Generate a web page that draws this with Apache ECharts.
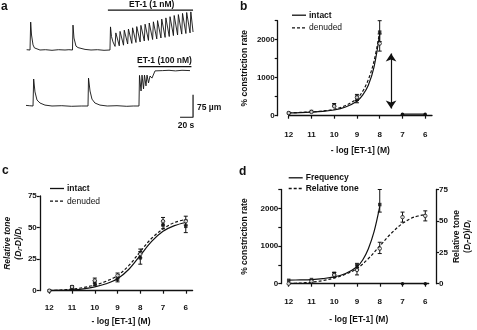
<!DOCTYPE html>
<html><head><meta charset="utf-8">
<script src="https://cdn.jsdelivr.net/npm/echarts@6/dist/echarts.min.js"></script>
<style>html,body{margin:0;padding:0;background:#fff}#c{width:477px;height:330px}</style>
</head><body><div id="c"></div>
<script>
const FONT = "'Liberation Sans', Arial, Helvetica, sans-serif";

// ---------- tick labels ----------
const xTicks = [12, 11, 10, 9, 8, 7, 6];
const rateTicks = [0, 500, 1000, 1500, 2000, 2500];
const rateLabels = [0, 1000, 2000];
const toneTicks = [0, 25, 50, 75];

// ---------- panel a : diameter traces [time s, µm] ----------
const traceTop = [
  [1,1],[4,0],[6.2,0],[7.2,93],[8.5,50],[10.8,17],[13,7],[15.4,3],[21.5,0],[30,1],[40,-1],[50,1],[60,0],[66,1],[71.5,0],
  [72.3,83],[73.8,40],[76.9,13],[80,8],[83,5],[90.8,2],[100,0],[110,1],[120,-1],[129.2,0],
  [130,77],[131.5,45],[133.8,27],[137,12],
  [138.2,57],[143.5,14],[144.7,62],[150,16],[151.2,66],[156.4,20],[157.6,70],[162.8,22],[164,74],[169.2,25],
  [170.4,78],[175.6,27],[176.8,82],[182,30],[183.2,86],[188.4,32],[189.6,90],[194.8,35],[196,94],[201.2,37],
  [202.4,98],[207.6,40],[208.8,103],[214,42],[215.2,107],[220.4,45],[221.6,111],[226.8,48],[228,115],[233.2,50],
  [234.4,118],[239.6,53],[240.8,122],[246,55],[247.2,125],[252.4,57],[253.6,127],[257,60]
];
const traceBottom = [
  [0,2],[5,1],[10.8,0],[11.8,90],[13.8,47],[16.9,20],[21.5,10],[29.2,3],[40,0],[55,1],[70,-1],[85,0],[95.4,0],
  [96.2,93],[98.5,50],[101.5,23],[106,10],[113.8,3],[125,0],[140,1],[155,-1],[165,0],[173.8,0],
  [174.6,102],[177,50],[178.5,103],[180.8,57],[182.3,103],[184.6,67],[186.2,103],[188.5,77],[190.8,100],
  [193.8,93],[198.5,117],[201.5,120],[210,118],[220,119],[230,117],[240,119],[252.3,118]
];
const et1LowBar = [[126,133],[257,133]];
const et1HighBar = [[173,131],[254.5,131]];
const scaleBar = [[237,-37.5],[257,-37.5],[257,37.5]];

// ---------- panel b : % constriction rate ----------
const bCurveX = [12, 11.5, 11, 10.5, 10, 9.5, 9, 8.75, 8.5, 8.25, 8];
const bIntactCurve = [75, 82, 95, 115, 150, 230, 380, 540, 800, 1280, 2150];
const bDenudedCurve = [75, 85, 100, 125, 170, 270, 450, 640, 950, 1430, 2200];
const bX = [12, 11, 10, 9, 8];
const bIntact = [70, 110, 280, 430, 2200];
const bDenuded = [70, 100, 250, 480, 1900];
const bIntactErr = [[10,240,320],[9,340,520],[8,1950,2500]];
const bDenudedErr = [[9,400,560],[8,1700,2150]];
const bPostX = [7, 6];
const bPost = [40, 40];
const bArrow = [[7.5,190],[7.5,1640]];

// ---------- panel c : relative tone ----------
const cCurveX = [12, 11.5, 11, 10.5, 10, 9.5, 9, 8.5, 8, 7.5, 7, 6.5, 6];
const cIntactCurve = [0.1, 0.3, 0.6, 1.5, 3, 5.5, 9.5, 17, 28, 39, 47, 51.5, 54];
const cDenudedCurve = [0.2, 0.5, 1.2, 2.5, 4.5, 7.5, 12, 20, 31, 41.5, 49, 54, 56.5];
const cX = [12, 11, 10, 9, 8, 7, 6];
const cIntact = [0, 2, 6, 9, 26, 52, 51];
const cDenuded = [0, 3, 8, 12, 29, 55, 55];
const cIntactErr = [[11,1,3],[10,4,8],[9,7,11],[8,21,31],[7,49,55],[6,46,56]];
const cDenudedErr = [[11,2,4],[10,6,10],[9,10,14],[8,26,33],[7,52,58],[6,52,59]];

// ---------- panel d : frequency vs relative tone ----------
const dFreqCurveX = [12, 11.5, 11, 10.5, 10, 9.5, 9, 8.75, 8.5, 8.25, 8];
const dFreqCurve = [95, 100, 110, 135, 180, 270, 450, 630, 930, 1380, 2050];
const dToneCurveX = [12, 11.5, 11, 10.5, 10, 9.5, 9, 8.5, 8, 7.5, 7, 6.5, 6];
const dToneCurve = [0.2, 0.5, 1.2, 2.5, 4.5, 7.5, 12, 20, 30, 40, 48, 53, 55];
const dFreqX = [12, 11, 10, 9, 8];
const dFreq = [90, 110, 270, 460, 2100];
const dFreqErr = [[10,230,300],[9,380,540],[8,1900,2500]];
const dToneX = [12, 11, 10, 9, 8, 7, 6];
const dTone = [0, 2, 7, 11, 28, 53, 54];
const dToneErr = [[11,1,3],[10,5,9],[9,7,15],[8,24,33],[7,49,57],[6,50,58]];
const dPostX = [7, 6];
const dPost = [0, 0];

// ---------- helpers ----------
const zip = (xs, ys) => xs.map((x, i) => [x, ys[i]]);
const BLACK = '#111';
const SOLID_ICON = 'path://M0,0h14v1.3h-14z';
const DASH_ICON = 'path://M0,0h3v1.3h-3z M5,0h3v1.3h-3z M10,0h3v1.3h-3z M14,0h0v1.3h0z';

function errRender(params, api) {
  const x = api.value(0), lo = api.value(1), hi = api.value(2);
  const p1 = api.coord([x, lo]), p2 = api.coord([x, hi]);
  const w = 2;
  const st = { stroke: BLACK, lineWidth: 1 };
  return { type: 'group', children: [
    { type: 'line', shape: { x1: p1[0], y1: p1[1], x2: p2[0], y2: p2[1] }, style: st },
    { type: 'line', shape: { x1: p1[0]-w, y1: p1[1], x2: p1[0]+w, y2: p1[1] }, style: st },
    { type: 'line', shape: { x1: p2[0]-w, y1: p2[1], x2: p2[0]+w, y2: p2[1] }, style: st }
  ]};
}

const axLine = { show: true, lineStyle: { color: BLACK, width: 1.3 } };
const axTick = (vals) => ({ show: true, length: 3, inside: false, lineStyle: { color: BLACK, width: 1.2 }, customValues: vals });
const axLabel = (vals, margin) => ({ color: BLACK, fontSize: 8, fontWeight: 'bold', fontFamily: FONT, margin: margin,
  customValues: vals, formatter: (v) => String(v) });
const nameStyle = { color: BLACK, fontSize: 8.5, fontWeight: 'bold', fontFamily: FONT };

function xLog(gridIndex, min, offset, gap) {
  return {
    type: 'value', gridIndex, inverse: true, min: min, max: 12, position: 'bottom', offset,
    axisLine: axLine, axisTick: axTick(xTicks), axisLabel: axLabel(xTicks, 5), splitLine: { show: false },
    name: '- log [ET-1] (M)', nameLocation: 'middle', nameGap: gap, nameTextStyle: nameStyle
  };
}

const toneRich = (italicTitle) => ({
  t: { fontSize: 8.5, fontWeight: 'bold', fontFamily: FONT, fontStyle: italicTitle ? 'italic' : 'normal', color: BLACK, lineHeight: 11 },
  it: { fontSize: 8.5, fontWeight: 'bold', fontFamily: FONT, fontStyle: 'italic', color: BLACK, lineHeight: 11 },
  n: { fontSize: 8.5, fontWeight: 'bold', fontFamily: FONT, color: BLACK, lineHeight: 11 },
  s: { fontSize: 6, fontWeight: 'bold', fontFamily: FONT, fontStyle: 'italic', color: BLACK, lineHeight: 11, verticalAlign: 'bottom', padding: [3, 0, 0, 0] }
});

const curve = (name, xi, yi, data, dashed) => ({
  type: 'line', name, xAxisIndex: xi, yAxisIndex: yi, data, symbol: 'none', smooth: 0.35,
  lineStyle: { color: BLACK, width: 1.2, type: dashed ? [3, 2] : 'solid' }, itemStyle: { color: BLACK }, z: 3
});
const pts = (name, xi, yi, data, sym) => ({
  type: 'scatter', name, xAxisIndex: xi, yAxisIndex: yi, data,
  symbol: sym === 'open' ? 'circle' : 'rect', symbolSize: 3.5,
  itemStyle: sym === 'open' ? { color: '#fff', borderColor: BLACK, borderWidth: 1 } : { color: BLACK }, z: 5
});
const errs = (name, xi, yi, data) => ({
  type: 'custom', name, xAxisIndex: xi, yAxisIndex: yi, data, renderItem: errRender, z: 4,
  encode: { x: 0, y: [1, 2] }
});
const trace = (name, xi, yi, data, w) => ({
  type: 'line', name, xAxisIndex: xi, yAxisIndex: yi, data, symbol: 'none',
  lineStyle: { color: BLACK, width: w || 1 }
});

const legendBase = (left, top, gap, items) => ({
  orient: 'vertical', left, top, padding: 0, itemWidth: 14, itemHeight: 1.3, itemGap: gap,
  textStyle: { color: BLACK, fontSize: 8.5, fontWeight: 'bold', fontFamily: FONT, padding: [0, 0, 0, -2] },
  selectedMode: false, data: items
});

const option = {
  animation: false,
  backgroundColor: '#fff',
  grid: [
    { left: 26, top: 5, width: 174.2, height: 51 },
    { left: 26, top: 64, width: 174.2, height: 55.8 },
    { left: 288.7, top: 20.7, width: 143.3, height: 95 },
    { left: 49.3, top: 196, width: 143.3, height: 94.7 },
    { left: 288.7, top: 189.5, width: 140, height: 94.2 }
  ],
  xAxis: [
    { type: 'value', gridIndex: 0, min: 0, max: 268, show: false },
    { type: 'value', gridIndex: 1, min: 0, max: 268, show: false },
    xLog(2, 5.7, 10, 20),
    xLog(3, 5.7, 8.5, 18),
    xLog(4, 5.85, 9.5, 22)
  ],
  yAxis: [
    { type: 'value', gridIndex: 0, min: -20, max: 150, show: false },
    { type: 'value', gridIndex: 1, min: -46, max: 140, show: false },
    { type: 'value', gridIndex: 2, min: 0, max: 2500, offset: 11,
      axisLine: axLine, axisTick: axTick(rateTicks), axisLabel: axLabel(rateLabels, 3), splitLine: { show: false },
      name: '% constriction rate', nameLocation: 'middle', nameRotate: 90, nameGap: 29, nameTextStyle: nameStyle },
    { type: 'value', gridIndex: 3, min: 0, max: 75, offset: 9.5,
      axisLine: axLine, axisTick: axTick(toneTicks), axisLabel: axLabel(toneTicks, 3), splitLine: { show: false },
      name: '{t|Relative tone}\n{it|(D}{s|i}{it|-D)/D}{s|i}', nameLocation: 'middle', nameRotate: 90, nameGap: 16,
      nameTextStyle: { rich: toneRich(true) } },
    { type: 'value', gridIndex: 4, min: 0, max: 2500, offset: 7.4, position: 'left',
      axisLine: axLine, axisTick: axTick(rateTicks), axisLabel: axLabel(rateLabels, 3), splitLine: { show: false },
      name: '% constriction rate', nameLocation: 'middle', nameRotate: 90, nameGap: 32, nameTextStyle: nameStyle },
    { type: 'value', gridIndex: 4, min: 0, max: 75, offset: 7.3, position: 'right',
      axisLine: axLine, axisTick: axTick(toneTicks), axisLabel: axLabel(toneTicks, 3), splitLine: { show: false },
      name: '{n|Relative tone}\n{n|(}{it|D}{s|i}{n|-}{it|D}{n|)/}{it|D}{s|i}', nameLocation: 'middle', nameRotate: 90, nameGap: 13,
      nameTextStyle: { rich: toneRich(false) } }
  ],
  legend: [
    legendBase(292, 10.7, 3.7, [{ name: 'intact', icon: SOLID_ICON },
      { name: 'denuded', icon: DASH_ICON, textStyle: { fontWeight: 'normal' } }]),
    legendBase(50, 184, 3.7, [{ name: 'intact', icon: SOLID_ICON },
      { name: 'denuded', icon: DASH_ICON, textStyle: { fontWeight: 'normal' } }]),
    legendBase(288.7, 173.3, 1.7, [{ name: 'Frequency', icon: SOLID_ICON }, { name: 'Relative tone', icon: DASH_ICON }])
  ],
  series: [
    // panel a
    trace('top trace', 0, 0, traceTop, 0.9),
    trace('ET-1 1 nM', 0, 0, et1LowBar, 1.3),
    trace('bottom trace', 1, 1, traceBottom, 0.9),
    trace('ET-1 100 nM', 1, 1, et1HighBar, 1.3),
    trace('scale', 1, 1, scaleBar, 1.2),
    // panel b
    curve('intact', 2, 2, zip(bCurveX, bIntactCurve), false),
    curve('denuded', 2, 2, zip(bCurveX, bDenudedCurve), true),
    errs('b intact err', 2, 2, bIntactErr),
    errs('b denuded err', 2, 2, bDenudedErr),
    pts('b intact pts', 2, 2, zip(bX, bIntact), 'fill'),
    pts('b denuded pts', 2, 2, zip(bX, bDenuded), 'open'),
    { type: 'line', name: 'b post', xAxisIndex: 2, yAxisIndex: 2, data: zip(bPostX, bPost), symbol: 'circle', symbolSize: 3.5,
      lineStyle: { color: BLACK, width: 1.2 }, itemStyle: { color: BLACK } },
    { type: 'lines', name: 'b arrow', coordinateSystem: 'cartesian2d', xAxisIndex: 2, yAxisIndex: 2,
      symbol: ['arrow', 'arrow'], symbolSize: 8, lineStyle: { color: BLACK, width: 1.2, opacity: 1 },
      data: [{ coords: bArrow }] },
    // panel c
    curve('intact', 3, 3, zip(cCurveX, cIntactCurve), false),
    curve('denuded', 3, 3, zip(cCurveX, cDenudedCurve), true),
    errs('c intact err', 3, 3, cIntactErr),
    errs('c denuded err', 3, 3, cDenudedErr),
    pts('c intact pts', 3, 3, zip(cX, cIntact), 'fill'),
    pts('c denuded pts', 3, 3, zip(cX, cDenuded), 'open'),
    // panel d
    curve('Frequency', 4, 4, zip(dFreqCurveX, dFreqCurve), false),
    curve('Relative tone', 4, 5, zip(dToneCurveX, dToneCurve), true),
    errs('d freq err', 4, 4, dFreqErr),
    errs('d tone err', 4, 5, dToneErr),
    pts('d freq pts', 4, 4, zip(dFreqX, dFreq), 'fill'),
    pts('d tone pts', 4, 5, zip(dToneX, dTone), 'open'),
    { type: 'line', name: 'd post', xAxisIndex: 4, yAxisIndex: 4, data: zip(dPostX, dPost), symbol: 'circle', symbolSize: 3.5,
      lineStyle: { color: BLACK, width: 1.2 }, itemStyle: { color: BLACK } }
  ],
  graphic: [
    { type: 'text', x: 1, y: 1, style: { text: 'a', fontSize: 12, fontWeight: 'bold', fontFamily: FONT, fill: BLACK } },
    { type: 'text', x: 240, y: 1, style: { text: 'b', fontSize: 12, fontWeight: 'bold', fontFamily: FONT, fill: BLACK } },
    { type: 'text', x: 2, y: 165, style: { text: 'c', fontSize: 12, fontWeight: 'bold', fontFamily: FONT, fill: BLACK } },
    { type: 'text', x: 239, y: 166, style: { text: 'd', fontSize: 12, fontWeight: 'bold', fontFamily: FONT, fill: BLACK } },
    { type: 'text', x: 151.7, y: 5, style: { text: 'ET-1 (1 nM)', fontSize: 8.5, fontWeight: 'bold', fontFamily: FONT, fill: BLACK, align: 'center', verticalAlign: 'middle' } },
    { type: 'text', x: 164.5, y: 60.5, style: { text: 'ET-1 (100 nM)', fontSize: 8.5, fontWeight: 'bold', fontFamily: FONT, fill: BLACK, align: 'center', verticalAlign: 'middle' } },
    { type: 'text', x: 197, y: 108, style: { text: '75 µm', fontSize: 8.5, fontWeight: 'bold', fontFamily: FONT, fill: BLACK, align: 'left', verticalAlign: 'middle' } },
    { type: 'text', x: 186, y: 125.5, style: { text: '20 s', fontSize: 8.5, fontWeight: 'bold', fontFamily: FONT, fill: BLACK, align: 'center', verticalAlign: 'middle' } }
  ]
};

const chart = echarts.init(document.getElementById('c'), null, { renderer: 'canvas' });
chart.setOption(option);
</script>
</body></html>
